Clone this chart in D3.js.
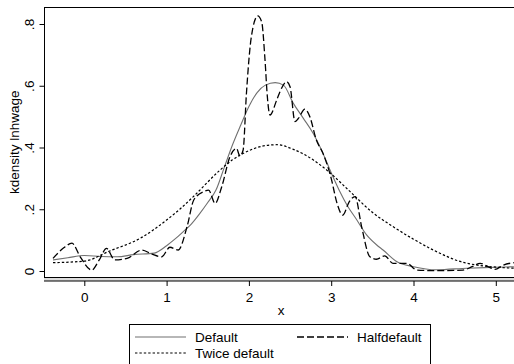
<!DOCTYPE html>
<html>
<head>
<meta charset="utf-8">
<script src="https://cdn.jsdelivr.net/npm/d3@7"></script>
<style>
  body { margin: 0; background: #fff; }
  text { font-family: "Liberation Sans", Arial, sans-serif; fill: #000; }
</style>
</head>
<body>
<div class="chart"></div>
<script>
const svgWidth = 514
const svgHeight = 364

// kdensity, default bandwidth
let defaultX = [-0.38, -0.2, 0, 0.2, 0.4, 0.6, 0.85, 1.0, 1.1, 1.2, 1.3, 1.4, 1.5, 1.6, 1.7, 1.8, 1.9, 2.0, 2.1, 2.2, 2.32, 2.42, 2.54, 2.66, 2.78, 2.9, 3.0, 3.1, 3.2, 3.3, 3.43, 3.55, 3.63, 3.8, 4.0, 4.28, 4.65, 5.0, 5.22]
let defaultY = [0.036, 0.043, 0.05, 0.047, 0.046, 0.053, 0.058, 0.082, 0.103, 0.127, 0.152, 0.185, 0.222, 0.262, 0.335, 0.408, 0.472, 0.533, 0.578, 0.602, 0.61, 0.602, 0.543, 0.495, 0.446, 0.381, 0.318, 0.26, 0.21, 0.17, 0.117, 0.085, 0.068, 0.03, 0.014, 0.004, 0.009, 0.012, 0.014]

// half the default bandwidth
let halfX = [-0.38, -0.25, -0.15, -0.05, 0.09, 0.18, 0.27, 0.37, 0.52, 0.7, 0.82, 0.94, 1.04, 1.14, 1.25, 1.33, 1.45, 1.51, 1.59, 1.67, 1.77, 1.85, 1.89, 1.93, 1.97, 2.03, 2.107, 2.155, 2.196, 2.224, 2.256, 2.338, 2.378, 2.459, 2.5, 2.56, 2.6, 2.68, 2.74, 2.82, 2.9, 3.0, 3.07, 3.14, 3.22, 3.29, 3.37, 3.47, 3.55, 3.65, 3.75, 3.92, 4.04, 4.28, 4.6, 4.72, 4.81, 4.9, 4.99, 5.09, 5.22]
let halfY = [0.041, 0.075, 0.09, 0.046, 0.003, 0.035, 0.073, 0.036, 0.041, 0.068, 0.055, 0.046, 0.077, 0.068, 0.145, 0.23, 0.257, 0.262, 0.219, 0.273, 0.37, 0.397, 0.372, 0.392, 0.575, 0.759, 0.826, 0.807, 0.683, 0.565, 0.505, 0.554, 0.581, 0.613, 0.597, 0.484, 0.494, 0.524, 0.5, 0.424, 0.381, 0.3, 0.22, 0.181, 0.225, 0.241, 0.143, 0.046, 0.038, 0.049, 0.025, 0.025, 0.003, 0.001, 0.003, 0.015, 0.025, 0.015, 0.005, 0.019, 0.027]

// twice the default bandwidth
let twiceX = [-0.38, 0, 0.31, 0.68, 1.0, 1.16, 1.325, 1.65, 1.8, 1.97, 2.175, 2.34, 2.54, 2.78, 2.985, 3.23, 3.5, 3.755, 4.0, 4.24, 4.65, 5.22]
let twiceY = [0.027, 0.032, 0.065, 0.106, 0.165, 0.2, 0.241, 0.327, 0.36, 0.386, 0.405, 0.409, 0.394, 0.36, 0.318, 0.257, 0.19, 0.143, 0.103, 0.068, 0.025, 0.009]

let xTicks = [0, 1, 2, 3, 4, 5]
let yTicks = [0, 0.2, 0.4, 0.6, 0.8]
let yTickLabels = ["0", ".2", ".4", ".6", ".8"]

let legendNames = ["Default", "Halfdefault", "Twice default"]

let plot = { left: 44, right: 514, top: 7, bottom: 277.5, axisY: 281 }

let svg = d3
  .select(".chart")
  .append("svg")
  .attr("width", svgWidth)
  .attr("height", svgHeight)

svg.append("rect")
  .attr("width", svgWidth)
  .attr("height", svgHeight)
  .attr("fill", "#fff")

let xScale = d3.scaleLinear().domain([0, 5]).range([84.3, 495.8])
let yScale = d3.scaleLinear().domain([0, 0.8]).range([271, 24])

// plot region frame
svg.append("line")
  .attr("x1", plot.left).attr("x2", plot.right)
  .attr("y1", plot.top + 0.5).attr("y2", plot.top + 0.5)
  .attr("stroke", "#000")

svg.append("rect")
  .attr("x", plot.left)
  .attr("y", plot.bottom)
  .attr("width", plot.right - plot.left)
  .attr("height", plot.axisY - plot.bottom)
  .attr("fill", "#dcdcdc")

svg.append("line")
  .attr("x1", plot.left).attr("x2", plot.right)
  .attr("y1", plot.bottom).attr("y2", plot.bottom)
  .attr("stroke", "#000")

svg.append("line")
  .attr("x1", plot.left).attr("x2", plot.right)
  .attr("y1", plot.axisY).attr("y2", plot.axisY)
  .attr("stroke", "#000")

svg.append("line")
  .attr("x1", plot.left + 0.5).attr("x2", plot.left + 0.5)
  .attr("y1", plot.top).attr("y2", plot.bottom)
  .attr("stroke", "#000")

// axes
let bottomAxis = d3.axisBottom(xScale)
  .tickValues(xTicks)
  .tickFormat(d3.format("d"))
  .tickSize(5)
  .tickSizeOuter(0)

let xAxis = svg.append("g")
  .attr("transform", `translate(0, ${plot.axisY})`)
  .call(bottomAxis)

xAxis.select(".domain").remove()
xAxis.selectAll("text")
  .attr("y", 20.5)
  .attr("dy", 0)
  .attr("font-size", "13.5px")
  .attr("font-family", "Liberation Sans, Arial, sans-serif")

let leftAxis = d3.axisLeft(yScale)
  .tickValues(yTicks)
  .tickFormat((d, i) => yTickLabels[i])
  .tickSize(5)
  .tickSizeOuter(0)

let yAxis = svg.append("g")
  .attr("transform", `translate(${plot.left + 0.5}, 0)`)
  .call(leftAxis)

yAxis.select(".domain").remove()
yAxis.selectAll("text")
  .attr("transform", "rotate(-90)")
  .attr("x", 0)
  .attr("y", -11)
  .attr("dy", 0)
  .attr("text-anchor", "middle")
  .attr("font-size", "13.5px")
  .attr("font-family", "Liberation Sans, Arial, sans-serif")

svg.selectAll(".tick line").attr("stroke", "#000")

// axis titles
svg.append("text")
  .attr("x", (plot.left + plot.right) / 2 + 2)
  .attr("y", 315)
  .attr("text-anchor", "middle")
  .attr("font-size", "13.5px")
  .text("x")

svg.append("text")
  .attr("transform", `translate(18.5, ${(plot.top + plot.bottom) / 2}) rotate(-90)`)
  .attr("text-anchor", "middle")
  .attr("font-size", "13.5px")
  .text("kdensity lnhwage")

// curves
let series = [
  { xs: defaultX, ys: defaultY, stroke: "#707070", width: 1.1, dash: null },
  { xs: halfX, ys: halfY, stroke: "#000", width: 1.3, dash: "7,3" },
  { xs: twiceX, ys: twiceY, stroke: "#000", width: 1.2, dash: "2.4,2" }
]

let line = d3.line()
  .x(d => xScale(d[0]))
  .y(d => yScale(d[1]))
  .curve(d3.curveMonotoneX)

svg.append("clipPath")
  .attr("id", "plotClip")
  .append("rect")
  .attr("x", plot.left)
  .attr("y", plot.top)
  .attr("width", plot.right - plot.left)
  .attr("height", plot.bottom - plot.top)

svg.append("g")
  .attr("clip-path", "url(#plotClip)")
  .selectAll("path")
  .data(series)
  .enter()
  .append("path")
  .attr("d", s => line(s.xs.map((x, i) => [x, s.ys[i]])))
  .attr("fill", "none")
  .attr("stroke", s => s.stroke)
  .attr("stroke-width", s => s.width)
  .attr("stroke-dasharray", s => s.dash)

// legend
let legend = svg.append("g")

legend.append("rect")
  .attr("x", 129.5)
  .attr("y", 324.5)
  .attr("width", 301)
  .attr("height", 60)
  .attr("fill", "#fff")
  .attr("stroke", "#000")

let legendPos = [
  { x: 135, y: 337 },
  { x: 297, y: 337 },
  { x: 135, y: 353 }
]

legendNames.forEach((name, i) => {
  let p = legendPos[i]
  let s = series[i]
  legend.append("line")
    .attr("x1", p.x).attr("x2", p.x + 51)
    .attr("y1", p.y).attr("y2", p.y)
    .attr("stroke", s.stroke)
    .attr("stroke-width", s.width)
    .attr("stroke-dasharray", s.dash)
  legend.append("text")
    .attr("x", p.x + 60)
    .attr("y", p.y + 5)
    .attr("font-size", "13.5px")
    .text(name)
})
</script>
</body>
</html>
